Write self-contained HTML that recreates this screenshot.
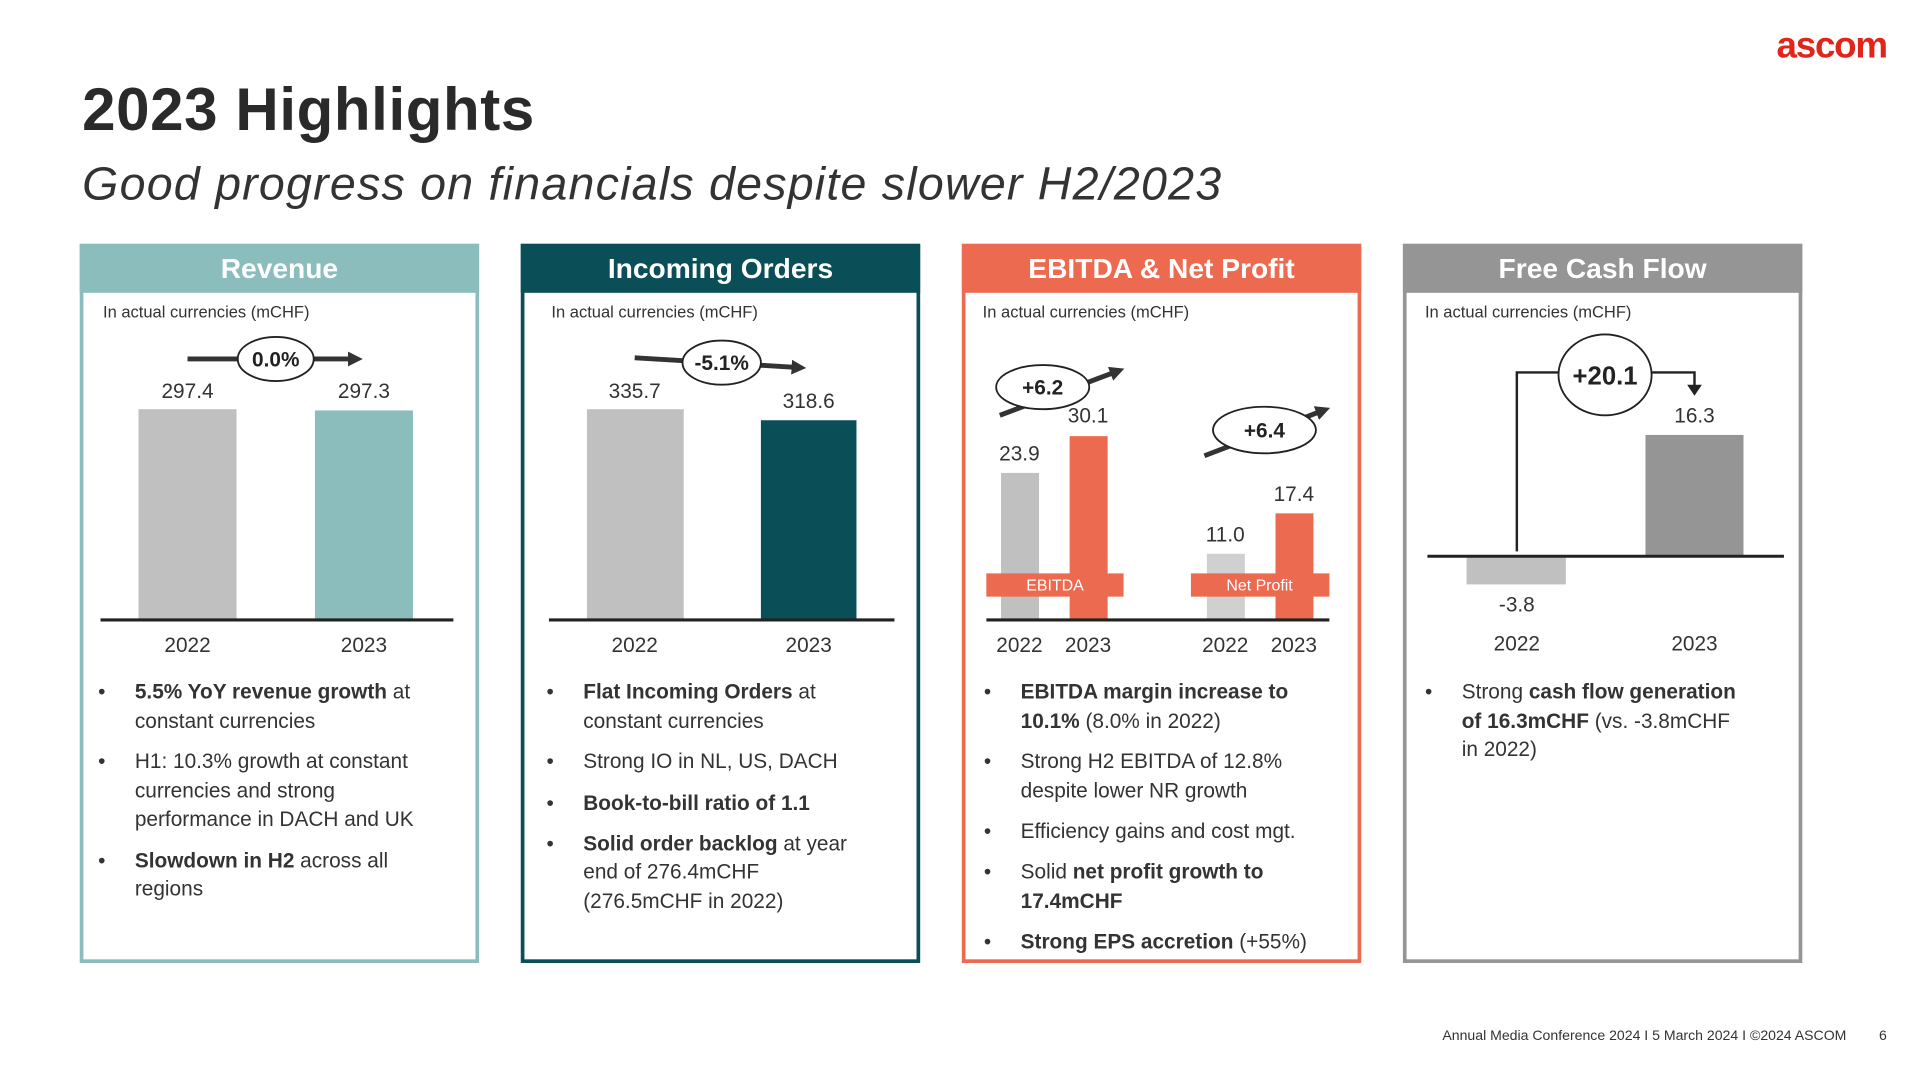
<!DOCTYPE html>
<html><head><meta charset="utf-8"><style>
html,body{margin:0;padding:0;background:#fff;overflow:hidden}
svg{display:block}
text{font-family:"Liberation Sans",sans-serif}
</style></head><body>
<svg width="1920" height="1080" viewBox="0 0 1567 881.5" xmlns="http://www.w3.org/2000/svg">
<defs>
<marker id="ah" viewBox="0 0 10 10" refX="5" refY="5" markerWidth="3" markerHeight="3" orient="auto"><path d="M0,0L10,5L0,10z" fill="#333"/></marker>
</defs>
<rect width="1567" height="881.5" fill="#fff"/>
<text x="1540" y="47" text-anchor="end" font-size="30" font-weight="bold" fill="#e1251b" letter-spacing="-1">ascom</text>
<text x="67" y="106" font-size="49" font-weight="bold" fill="#2a2a2a" letter-spacing="0.5">2023 Highlights</text>
<text x="67" y="163" font-size="38" font-style="italic" fill="#333" letter-spacing="1">Good progress on financials despite slower H2/2023</text>

<g stroke-width="3" fill="none">
<rect x="66.5" y="200.5" width="323" height="584" stroke="#8bbdbd"/>
<rect x="426.5" y="200.5" width="323" height="584" stroke="#0a4f58"/>
<rect x="786.5" y="200.5" width="323" height="584" stroke="#ec6a50"/>
<rect x="1146.5" y="200.5" width="323" height="584" stroke="#959595"/>
</g>
<rect x="65" y="199" width="326" height="40" fill="#8bbdbd"/>
<rect x="425" y="199" width="326" height="40" fill="#0a4f58"/>
<rect x="785" y="199" width="326" height="40" fill="#ec6a50"/>
<rect x="1145" y="199" width="326" height="40" fill="#959595"/>
<g font-size="23" font-weight="bold" fill="#fff" text-anchor="middle">
<text x="228" y="227">Revenue</text>
<text x="588" y="227">Incoming Orders</text>
<text x="948" y="227">EBITDA &amp; Net Profit</text>
<text x="1308" y="227">Free Cash Flow</text>
</g>
<g font-size="13.5" fill="#333">
<text x="84" y="259">In actual currencies (mCHF)</text>
<text x="450" y="259">In actual currencies (mCHF)</text>
<text x="802" y="259">In actual currencies (mCHF)</text>
<text x="1163" y="259">In actual currencies (mCHF)</text>
</g>

<rect x="113" y="334" width="80" height="172" fill="#c0c0c0"/>
<rect x="257" y="335" width="80" height="171" fill="#8bbdbd"/>
<line x1="82" y1="506" x2="370" y2="506" stroke="#222" stroke-width="2.5"/>
<g font-size="17" fill="#333" text-anchor="middle">
<text x="153" y="325">297.4</text><text x="297" y="325">297.3</text>
<text x="153" y="532">2022</text><text x="297" y="532">2023</text>
</g>
<line x1="153" y1="293" x2="290" y2="293" stroke="#333" stroke-width="4" marker-end="url(#ah)"/>
<ellipse cx="225" cy="293" rx="31" ry="18" fill="#fff" stroke="#222" stroke-width="1.5"/>
<text x="225" y="299" font-size="17" font-weight="bold" fill="#222" text-anchor="middle">0.0%</text>

<rect x="479" y="334" width="79" height="172" fill="#c0c0c0"/>
<rect x="621" y="343" width="78" height="163" fill="#0a4f58"/>
<line x1="448" y1="506" x2="730" y2="506" stroke="#222" stroke-width="2.5"/>
<g font-size="17" fill="#333" text-anchor="middle">
<text x="518" y="325">335.7</text><text x="660" y="333">318.6</text>
<text x="518" y="532">2022</text><text x="660" y="532">2023</text>
</g>
<line x1="518" y1="292" x2="652" y2="300" stroke="#333" stroke-width="4" marker-end="url(#ah)"/>
<ellipse cx="589" cy="296" rx="32" ry="18" fill="#fff" stroke="#222" stroke-width="1.5"/>
<text x="589" y="302" font-size="17" font-weight="bold" fill="#222" text-anchor="middle">-5.1%</text>

<rect x="817" y="386" width="31" height="120" fill="#c0c0c0"/>
<rect x="873" y="356" width="31" height="150" fill="#ec6a50"/>
<rect x="985" y="452" width="31" height="54" fill="#d0d0d0"/>
<rect x="1041" y="419" width="31" height="87" fill="#ec6a50"/>
<rect x="805" y="468" width="112" height="19" fill="#ec6a50"/>
<rect x="972" y="468" width="113" height="19" fill="#ec6a50"/>
<g font-size="13" fill="#fff" text-anchor="middle"><text x="861" y="482">EBITDA</text><text x="1028" y="482">Net Profit</text></g>
<line x1="805" y1="506" x2="1085" y2="506" stroke="#222" stroke-width="2.5"/>
<g font-size="17" fill="#333" text-anchor="middle">
<text x="832" y="376">23.9</text><text x="888" y="345">30.1</text>
<text x="1000" y="442">11.0</text><text x="1056" y="409">17.4</text>
<text x="832" y="532">2022</text><text x="888" y="532">2023</text>
<text x="1000" y="532">2022</text><text x="1056" y="532">2023</text>
</g>
<line x1="816" y1="339" x2="912" y2="303" stroke="#333" stroke-width="4" marker-end="url(#ah)"/>
<ellipse cx="851" cy="316" rx="38" ry="18" fill="#fff" stroke="#222" stroke-width="1.5"/>
<text x="851" y="322" font-size="17" font-weight="bold" fill="#222" text-anchor="middle">+6.2</text>
<line x1="983" y1="372" x2="1080" y2="335" stroke="#333" stroke-width="4" marker-end="url(#ah)"/>
<ellipse cx="1032" cy="351" rx="42" ry="19" fill="#fff" stroke="#222" stroke-width="1.5"/>
<text x="1032" y="357" font-size="17" font-weight="bold" fill="#222" text-anchor="middle">+6.4</text>

<rect x="1197" y="454" width="81" height="23" fill="#c0c0c0"/>
<rect x="1343" y="355" width="80" height="99" fill="#959595"/>
<line x1="1165" y1="454" x2="1456" y2="454" stroke="#222" stroke-width="2.5"/>
<polyline points="1238,450 1238,304 1383,304 1383,316" fill="none" stroke="#222" stroke-width="2"/>
<path d="M1377,314 L1389,314 L1383,323 z" fill="#222"/>
<ellipse cx="1310" cy="306" rx="38" ry="33" fill="#fff" stroke="#222" stroke-width="1.5"/>
<text x="1310" y="314" font-size="21" font-weight="bold" fill="#222" text-anchor="middle">+20.1</text>
<g font-size="17" fill="#333" text-anchor="middle">
<text x="1383" y="345">16.3</text><text x="1238" y="499">-3.8</text>
<text x="1238" y="531">2022</text><text x="1383" y="531">2023</text>
</g>

<g font-size="17" fill="#333">
<g>
<text x="80" y="570">•</text>
<text x="110" y="570"><tspan font-weight="bold">5.5% YoY revenue growth</tspan> at</text>
<text x="110" y="594">constant currencies</text>
<text x="80" y="627">•</text>
<text x="110" y="627">H1: 10.3% growth at constant</text>
<text x="110" y="651">currencies and strong</text>
<text x="110" y="674">performance in DACH and UK</text>
<text x="80" y="708">•</text>
<text x="110" y="708"><tspan font-weight="bold">Slowdown in H2</tspan> across all</text>
<text x="110" y="731">regions</text>
</g>
<g>
<text x="446" y="570">•</text>
<text x="476" y="570"><tspan font-weight="bold">Flat Incoming Orders</tspan> at</text>
<text x="476" y="594">constant currencies</text>
<text x="446" y="627">•</text>
<text x="476" y="627">Strong IO in NL, US, DACH</text>
<text x="446" y="661">•</text>
<text x="476" y="661" font-weight="bold">Book-to-bill ratio of 1.1</text>
<text x="446" y="694">•</text>
<text x="476" y="694"><tspan font-weight="bold">Solid order backlog</tspan> at year</text>
<text x="476" y="717">end of 276.4mCHF</text>
<text x="476" y="741">(276.5mCHF in 2022)</text>
</g>
<g>
<text x="803" y="570">•</text>
<text x="833" y="570" font-weight="bold">EBITDA margin increase to</text>
<text x="833" y="594"><tspan font-weight="bold">10.1%</tspan> (8.0% in 2022)</text>
<text x="803" y="627">•</text>
<text x="833" y="627">Strong H2 EBITDA of 12.8%</text>
<text x="833" y="651">despite lower NR growth</text>
<text x="803" y="684">•</text>
<text x="833" y="684">Efficiency gains and cost mgt.</text>
<text x="803" y="717">•</text>
<text x="833" y="717">Solid <tspan font-weight="bold">net profit growth to</tspan></text>
<text x="833" y="741" font-weight="bold">17.4mCHF</text>
<text x="803" y="774">•</text>
<text x="833" y="774"><tspan font-weight="bold">Strong EPS accretion</tspan> (+55%)</text>
</g>
<g>
<text x="1163" y="570">•</text>
<text x="1193" y="570">Strong <tspan font-weight="bold">cash flow generation</tspan></text>
<text x="1193" y="594"><tspan font-weight="bold">of 16.3mCHF</tspan> (vs. -3.8mCHF</text>
<text x="1193" y="617">in 2022)</text>
</g>
</g>

<text x="1507" y="849" font-size="11.5" fill="#333" text-anchor="end">Annual Media Conference 2024 I 5 March 2024 I ©2024 ASCOM</text>
<text x="1540" y="849" font-size="11.5" fill="#333" text-anchor="end">6</text>
</svg>
</body></html>
